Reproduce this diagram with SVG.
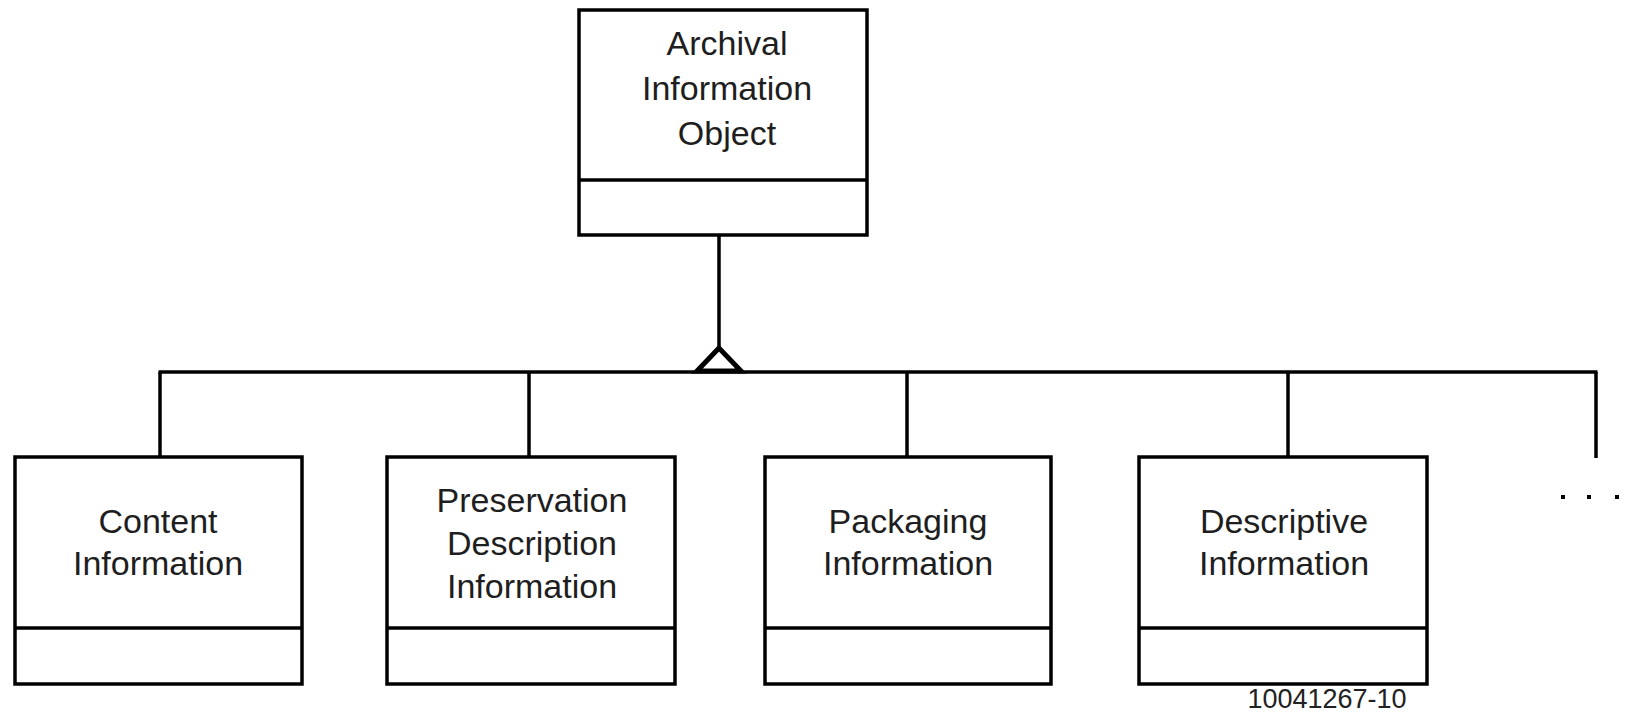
<svg xmlns="http://www.w3.org/2000/svg" width="1629" height="713" viewBox="0 0 1629 713">
<style>
.box{fill:#fff;stroke:#000;stroke-width:3.5}
.div{stroke:#000;stroke-width:3.5}
.lbl{font-family:"Liberation Sans",Arial,sans-serif;font-size:34px;fill:#1e1e1e;text-anchor:middle}
.con{stroke:#000;stroke-width:3.5;fill:none}
.ref{font-family:"Liberation Sans",Arial,sans-serif;font-size:27px;fill:#222;text-anchor:middle}
</style>
<rect width="1629" height="713" fill="#fff"/>
<g id="connectors">
<line class="con" x1="719" y1="235" x2="719" y2="350"/>
<line class="con" x1="158.5" y1="372" x2="1597.5" y2="372"/>
<line class="con" x1="160" y1="372" x2="160" y2="457"/>
<line class="con" x1="529" y1="372" x2="529" y2="457"/>
<line class="con" x1="907" y1="372" x2="907" y2="457"/>
<line class="con" x1="1288" y1="372" x2="1288" y2="457"/>
<line class="con" x1="1596" y1="372" x2="1596" y2="458"/>
<polygon points="719,348 697,371 741,371" fill="#fff" stroke="#000" stroke-width="5" stroke-linejoin="miter"/>
</g>
<g id="aio">
<rect class="box" x="579" y="10" width="288" height="225"/>
<line class="div" x1="579" y1="180" x2="867" y2="180"/>
<text class="lbl" x="727" y="55">Archival</text>
<text class="lbl" x="727" y="100">Information</text>
<text class="lbl" x="727" y="145">Object</text>
</g>
<g id="content">
<rect class="box" x="15" y="457" width="287" height="227"/>
<line class="div" x1="15" y1="628" x2="302" y2="628"/>
<text class="lbl" x="158" y="533">Content</text>
<text class="lbl" x="158" y="575">Information</text>
</g>
<g id="pdi">
<rect class="box" x="387" y="457" width="288" height="227"/>
<line class="div" x1="387" y1="628" x2="675" y2="628"/>
<text class="lbl" x="532" y="512">Preservation</text>
<text class="lbl" x="532" y="555">Description</text>
<text class="lbl" x="532" y="598">Information</text>
</g>
<g id="packaging">
<rect class="box" x="765" y="457" width="286" height="227"/>
<line class="div" x1="765" y1="628" x2="1051" y2="628"/>
<text class="lbl" x="908" y="533">Packaging</text>
<text class="lbl" x="908" y="575">Information</text>
</g>
<g id="descriptive">
<rect class="box" x="1139" y="457" width="288" height="227"/>
<line class="div" x1="1139" y1="628" x2="1427" y2="628"/>
<text class="lbl" x="1284" y="533">Descriptive</text>
<text class="lbl" x="1284" y="575">Information</text>
</g>
<g id="more">
<rect x="1561" y="495" width="4" height="4" fill="#000"/>
<rect x="1587" y="495" width="4" height="4" fill="#000"/>
<rect x="1615" y="495" width="4" height="4" fill="#000"/>
</g>
<text class="ref" x="1327" y="708">10041267-10</text>
</svg>
